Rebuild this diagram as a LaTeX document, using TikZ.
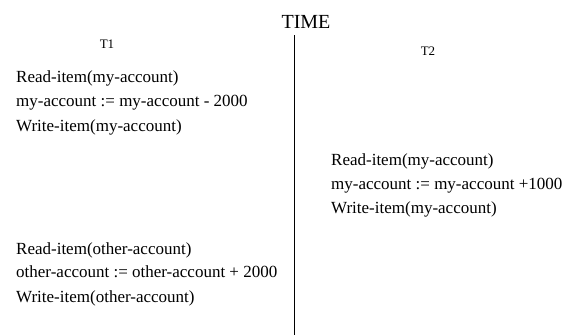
\documentclass[tikz,border=0pt]{standalone}
\usepackage{fontspec}
\setmainfont{Liberation Serif}
\begin{document}
\begin{tikzpicture}[x=1pt,y=1pt,
  op/.style={anchor=base west,inner sep=0pt,font=\fontsize{17}{20}\selectfont},
  head/.style={anchor=base,inner sep=0pt,font=\fontsize{13}{15}\selectfont},
  title/.style={anchor=base,inner sep=0pt,font=\fontsize{20}{24}\selectfont},
  axis/.style={line width=0.9pt,black}]
\useasboundingbox (0,0) rectangle (574,-335);

% time axis
\node[title] (time) at (306,-28.3) {TIME};
\coordinate (axtop) at (294,-35);
\coordinate (axbot) at (294,-335);
\draw[axis] (axtop) -- (axbot);

% transaction headers
\node[head] (t1) at (107,-48) {T1};
\node[head] (t2) at (428,-55) {T2};

% T1, first block
\node[op] (r1) at (16,-82) {Read-item(my-account)};
\node[op] (u1) at (16,-106) {my-account := my-account - 2000};
\node[op] (w1) at (16,-131) {Write-item(my-account)};

% T2
\node[op] (r2) at (331,-165) {Read-item(my-account)};
\node[op] (u2) at (331,-189) {my-account := my-account +1000};
\node[op] (w2) at (331,-213) {Write-item(my-account)};

% T1, second block
\node[op] (r3) at (16,-254) {Read-item(other-account)};
\node[op] (u3) at (16,-277) {other-account := other-account + 2000};
\node[op] (w3) at (16,-302) {Write-item(other-account)};
\end{tikzpicture}
\end{document}
